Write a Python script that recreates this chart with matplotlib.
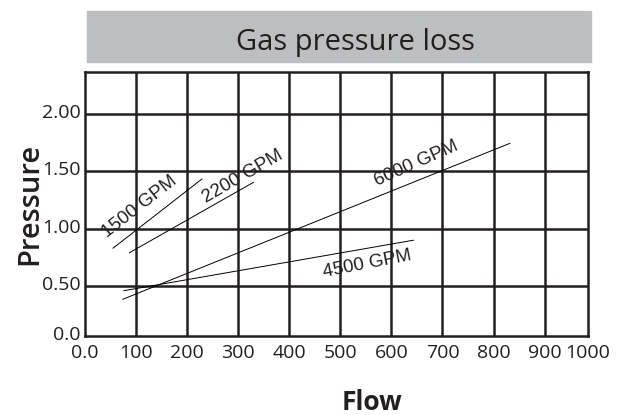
import matplotlib
matplotlib.use("Agg")
import matplotlib.pyplot as plt
from matplotlib.patches import Rectangle
from matplotlib.transforms import ScaledTranslation

# data
x_ticks = [0, 100, 200, 300, 400, 500, 600, 700, 800, 900, 985]
x_tick_labels = ["0.0", "100", "200", "300", "400", "500", "600", "700", "800", "900", "1000"]
y_bottom = 0.064
y_ticks = [y_bottom, 0.5, 1.0, 1.5, 2.0]
y_tick_labels = ["0.0", "0.50", "1.00", "1.50", "2.00"]

series_names = ["1500 GPM", "2200 GPM", "6000 GPM", "4500 GPM"]
flow_start = [55, 87, 74, 76]
flow_end = [229, 330, 832, 643]
pressure_start = [0.83, 0.79, 0.384, 0.459]
pressure_end = [1.433, 1.404, 1.744, 0.899]

label_x = [106, 308, 649, 553]
label_y = [1.186, 1.453, 1.57, 0.692]
label_rot = [38, 30, 24, 11]

ink = "#231f20"

fig = plt.figure(figsize=(6.3, 4.15), dpi=100)
ax = fig.add_axes([85 / 630, 1 - 336 / 415, 503 / 630, 264 / 415])

# title banner
fig.patches.append(Rectangle((87 / 630, 1 - 62 / 415), 504 / 630, 51 / 415,
                             transform=fig.transFigure, color="#bdbec0", zorder=0))
fig.text(355 / 630, 1 - 50 / 415, "Gas pressure loss", family="Open Sans",
         fontsize=21, color=ink, ha="center", va="baseline")

ax.set_xlim(0, 985)
ax.set_ylim(y_bottom, 2.366)

for xv in x_ticks[1:-1]:
    ax.axvline(xv, color=ink, lw=1.8, zorder=1)
for yv in y_ticks[1:]:
    ax.axhline(yv, color=ink, lw=1.8, zorder=1)
for s in ax.spines.values():
    s.set_linewidth(1.8)
    s.set_color(ink)

for i in range(len(series_names)):
    ax.plot([flow_start[i], flow_end[i]], [pressure_start[i], pressure_end[i]],
            color="black", lw=0.7, zorder=3)
    ax.text(label_x[i], label_y[i], series_names[i], rotation=label_rot[i],
            rotation_mode="anchor", ha="center", va="center",
            family="Liberation Sans", fontsize=13.5, color=ink, zorder=4)

ax.set_xticks(x_ticks)
ax.set_xticklabels(x_tick_labels, family="Open Sans", fontsize=14, color=ink)
ax.set_yticks(y_ticks)
ax.set_yticklabels(y_tick_labels, family="Open Sans", fontsize=14, color=ink)
ax.tick_params(axis="x", length=0, pad=6)
ax.tick_params(axis="y", length=0, pad=3)
for lab in ax.get_yticklabels():
    lab.set_transform(lab.get_transform() + ScaledTranslation(0, 0.03, fig.dpi_scale_trans))

fig.text(29.5 / 630, 1 - 203.5 / 415, "Pressure", rotation=90, family="Open Sans",
         fontweight="semibold", fontsize=21, color=ink, ha="center", va="center")
fig.text(372 / 630, 1 - 410 / 415, "Flow", family="Open Sans",
         fontweight="bold", fontsize=19, color=ink, ha="center", va="baseline")

fig.savefig("out.png", dpi=100)
